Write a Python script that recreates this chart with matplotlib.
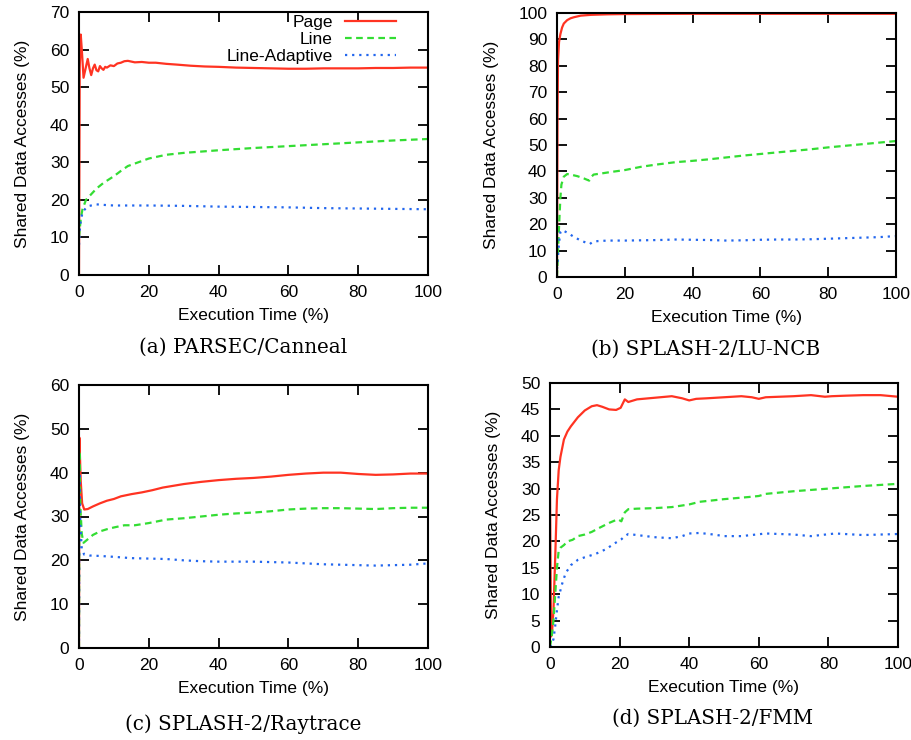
import matplotlib
matplotlib.use("Agg")
import matplotlib.pyplot as plt
import numpy as np

plt.rcParams['font.family'] = ['Liberation Sans', 'DejaVu Sans']

RED = '#ff3322'
GREEN = '#33dd33'
BLUE = '#2266ee'

# ---------------- Panel (a) PARSEC/Canneal ----------------
a_page_x = [0, 0.2, 0.5, 0.8, 1.3, 1.9, 2.5, 3.0, 3.5, 4.0, 4.5, 5.0, 5.5, 6.0, 6.5, 7.0, 7.5, 8.0,
            9.0, 10.0, 11.0, 12.0, 13.0, 14.0, 16.0, 18.0, 20.0, 22.0, 25.0, 28.0, 32.0, 36.0, 40.0,
            45.0, 50.0, 55.0, 60.0, 65.0, 70.0, 75.0, 80.0, 85.0, 90.0, 95.0, 100.0]
a_page_y = [0, 55, 64, 60, 52.5, 55, 57.5, 55, 53.2, 55, 56, 54.5, 54.2, 55.6, 55, 54.6, 55.4, 55.2,
            55.8, 55.6, 56.3, 56.5, 56.9, 57.0, 56.6, 56.7, 56.5, 56.5, 56.2, 56.0, 55.7, 55.5, 55.4,
            55.2, 55.1, 55.0, 54.9, 54.9, 55.0, 55.0, 55.0, 55.1, 55.1, 55.2, 55.2]
a_line_x = [0, 0.5, 1.0, 2.0, 3.0, 5.0, 7.0, 10.0, 12.0, 14.0, 17.0, 20.0, 25.0, 30.0, 40.0, 50.0,
            60.0, 70.0, 80.0, 90.0, 100.0]
a_line_y = [10, 15, 17.5, 20, 21, 23, 24.5, 26.3, 27.7, 29, 30, 31, 32, 32.5, 33.2, 33.8, 34.3,
            34.8, 35.3, 35.8, 36.2]
a_adap_x = [0, 0.3, 0.7, 1.2, 2.0, 3.0, 5.0, 8.0, 10.0, 20.0, 30.0, 40.0, 50.0, 60.0, 70.0, 80.0,
            90.0, 100.0]
a_adap_y = [8, 13, 15.5, 17, 17.8, 18.4, 18.8, 18.6, 18.5, 18.5, 18.4, 18.2, 18.1, 18.0, 17.8,
            17.7, 17.6, 17.5]

# ---------------- Panel (b) SPLASH-2/LU-NCB ----------------
b_page_x = [0, 0.15, 0.3, 0.6, 1.0, 1.5, 2.0, 3.0, 4.0, 5.0, 7.0, 10.0, 15.0, 20.0, 40.0, 60.0,
            80.0, 100.0]
b_page_y = [0, 60, 82, 89, 92, 94.5, 96, 97.3, 98, 98.4, 99, 99.3, 99.5, 99.6, 99.7, 99.7, 99.7, 99.7]
b_line_x = [0, 0.3, 0.7, 1.0, 1.3, 2.0, 3.0, 4.0, 6.0, 8.0, 9.5, 10.2, 10.8, 13.0, 16.0, 20.0,
            25.0, 30.0, 35.0, 40.0, 45.0, 50.0, 55.0, 60.0, 65.0, 70.0, 75.0, 80.0, 85.0, 90.0,
            95.0, 100.0]
b_line_y = [0, 10, 22, 30, 35, 38, 39, 38.8, 38.2, 37.3, 36.5, 38, 38.8, 39.2, 39.8, 40.5, 41.8,
            42.7, 43.5, 44.0, 44.6, 45.3, 46.0, 46.6, 47.2, 47.8, 48.4, 49.1, 49.7, 50.3, 50.9, 51.5]
b_adap_x = [0, 0.3, 0.6, 1.0, 1.5, 3.0, 5.0, 7.0, 9.0, 9.7, 10.5, 12.0, 15.0, 20.0, 25.0, 30.0,
            35.0, 40.0, 45.0, 50.0, 55.0, 60.0, 65.0, 70.0, 75.0, 80.0, 85.0, 90.0, 95.0, 100.0]
b_adap_y = [3, 8, 13, 17, 17.8, 16.8, 15.2, 13.8, 12.8, 12.5, 13.3, 13.6, 13.8, 13.8, 13.9, 14.0,
            14.2, 14.1, 14.0, 13.8, 13.9, 14.1, 14.2, 14.2, 14.3, 14.5, 14.7, 14.9, 15.1, 15.5]

# ---------------- Panel (c) SPLASH-2/Raytrace ----------------
c_page_x = [0, 0.1, 0.5, 0.9, 1.5, 2.5, 4.0, 6.0, 8.0, 10.0, 12.0, 15.0, 18.0, 21.0, 24.0, 27.0,
            30.0, 35.0, 40.0, 45.0, 50.0, 55.0, 60.0, 65.0, 70.0, 75.0, 80.0, 85.0, 90.0, 95.0, 100.0]
c_page_y = [0, 48, 38, 33, 31.6, 31.7, 32.3, 33.0, 33.6, 34.0, 34.6, 35.1, 35.5, 36.0, 36.6, 37.0,
            37.4, 37.9, 38.3, 38.6, 38.8, 39.1, 39.5, 39.8, 40.0, 40.0, 39.7, 39.5, 39.6, 39.8, 39.8]
c_line_x = [0, 0.1, 0.4, 0.8, 1.3, 2.5, 4.0, 6.0, 8.0, 10.0, 13.0, 16.0, 20.0, 25.0, 30.0, 35.0,
            40.0, 45.0, 50.0, 55.0, 60.0, 65.0, 70.0, 75.0, 80.0, 85.0, 90.0, 95.0, 100.0]
c_line_y = [0, 45, 32, 26, 24.0, 24.8, 25.8, 26.6, 27.1, 27.5, 28.0, 28.0, 28.5, 29.3, 29.6, 30.0,
            30.4, 30.7, 30.9, 31.2, 31.6, 31.8, 31.9, 31.9, 31.8, 31.7, 31.9, 32.0, 32.0]
c_adap_x = [0, 0.1, 0.4, 0.8, 1.5, 3.0, 6.0, 10.0, 15.0, 20.0, 25.0, 30.0, 35.0, 40.0, 50.0,
            60.0, 65.0, 70.0, 75.0, 80.0, 85.0, 90.0, 95.0, 100.0]
c_adap_y = [0, 40, 28, 22.5, 21.3, 21.1, 21.0, 20.8, 20.5, 20.4, 20.3, 20.0, 19.8, 19.7, 19.7,
            19.5, 19.3, 19.1, 19.0, 18.9, 18.8, 18.9, 19.0, 19.3]

# ---------------- Panel (d) SPLASH-2/FMM ----------------
d_page_x = [0, 0.3, 0.6, 1.0, 1.5, 2.0, 2.5, 3.0, 4.0, 5.0, 6.0, 8.0, 10.0, 12.0, 13.5, 15.0, 17.0,
            19.0, 20.3, 21.5, 22.5, 25.0, 30.0, 35.0, 38.0, 40.0, 42.0, 45.0, 50.0, 55.0, 58.0, 60.0,
            62.0, 66.0, 70.0, 75.0, 79.0, 81.0, 85.0, 90.0, 95.0, 100.0]
d_page_y = [30, 2, 3, 7, 17, 28, 33.5, 36, 39.3, 40.8, 41.8, 43.5, 44.8, 45.6, 45.8, 45.5, 45.0,
            44.9, 45.3, 46.9, 46.4, 46.9, 47.2, 47.5, 47.1, 46.7, 47.0, 47.1, 47.3, 47.5, 47.3, 47.0,
            47.3, 47.4, 47.5, 47.7, 47.4, 47.5, 47.6, 47.7, 47.7, 47.4]
d_line_x = [0, 0.5, 1.0, 1.5, 2.0, 2.5, 3.0, 4.0, 5.0, 6.5, 8.0, 10.0, 12.0, 14.0, 17.0, 19.5,
            20.5, 21.5, 22.5, 25.0, 30.0, 35.0, 40.0, 43.0, 50.0, 57.0, 60.0, 62.0, 70.0, 80.0, 90.0,
            100.0]
d_line_y = [0, 2, 5, 10, 15, 18.3, 18.8, 19.3, 20.0, 20.3, 21.0, 21.3, 21.8, 22.5, 23.5, 24.2,
            23.8, 25.5, 26.1, 26.2, 26.3, 26.5, 27.0, 27.5, 28.0, 28.4, 28.6, 29.0, 29.5, 30.0, 30.5,
            30.9]
d_adap_x = [0, 0.5, 1.0, 1.5, 2.0, 2.5, 3.5, 4.5, 6.0, 8.0, 10.0, 13.0, 16.0, 19.0, 20.5, 21.5,
            22.5, 25.0, 30.0, 35.0, 38.0, 40.0, 43.0, 47.0, 50.0, 55.0, 62.0, 70.0, 75.0, 82.0, 90.0,
            100.0]
d_adap_y = [0, 0.5, 1.5, 4, 7, 9.5, 12, 14, 15.5, 16.5, 17.0, 17.6, 18.5, 19.8, 20.4, 21.0, 21.4,
            21.2, 20.8, 20.6, 21.0, 21.5, 21.6, 21.3, 21.0, 21.0, 21.5, 21.3, 21.0, 21.5, 21.2, 21.4]

panels = [
    dict(rect=[79, 12, 428, 275], ymax=70, ystep=10, caption='(a) PARSEC/Canneal', cap=(243, 347),
         data=[(a_page_x, a_page_y), (a_line_x, a_line_y), (a_adap_x, a_adap_y)], legend=True),
    dict(rect=[557, 13, 896, 277], ymax=100, ystep=10, caption='(b) SPLASH-2/LU-NCB', cap=(706, 349),
         data=[(b_page_x, b_page_y), (b_line_x, b_line_y), (b_adap_x, b_adap_y)], legend=False),
    dict(rect=[79, 385, 428, 648], ymax=60, ystep=10, caption='(c) SPLASH-2/Raytrace', cap=(243, 724),
         data=[(c_page_x, c_page_y), (c_line_x, c_line_y), (c_adap_x, c_adap_y)], legend=False),
    dict(rect=[550, 383, 898, 647], ymax=50, ystep=5, caption='(d) SPLASH-2/FMM', cap=(713, 718),
         data=[(d_page_x, d_page_y), (d_line_x, d_line_y), (d_adap_x, d_adap_y)], legend=False),
]

series_names = ['Page', 'Line', 'Line-Adaptive']
styles = [dict(color=RED, lw=1.6, ls='-'),
          dict(color=GREEN, lw=1.6, dashes=(3.0, 2.0)),
          dict(color=BLUE, lw=1.6, dashes=(1.0, 2.2))]

W, H = 912, 740
fig = plt.figure(figsize=(W / 100, H / 100), dpi=100)

for p in panels:
    x0, y0, x1, y1 = p['rect']
    ax = fig.add_axes([x0 / W, 1 - y1 / H, (x1 - x0) / W, (y1 - y0) / H])
    handles = []
    for (xs, ys), name, st in zip(p['data'], series_names, styles):
        h, = ax.plot(xs, ys, label=name, **st)
        handles.append(h)
    ax.set_xlim(0, 100)
    ax.set_ylim(0, p['ymax'])
    ax.set_xticks(np.arange(0, 101, 20))
    ax.set_yticks(np.arange(0, p['ymax'] + 0.1, p['ystep']))
    ax.tick_params(direction='in', length=7, width=1.3, top=True, right=True,
                   labelsize=12.5, pad=7)
    for s in ax.spines.values():
        s.set_linewidth(1.5)
    ax.set_xlabel('Execution Time (%)', fontsize=12.5, labelpad=6)
    ax.set_ylabel('Shared Data Accesses (%)', fontsize=12.5, labelpad=14)
    fig.text(p['cap'][0] / W, 1 - p['cap'][1] / H, p['caption'], ha='center', va='center',
             fontsize=14.3, family='DejaVu Serif')
    if p['legend']:
        leg = ax.legend(handles=handles, loc='upper right', frameon=False, fontsize=12.5,
                        markerfirst=False, handlelength=2.95, handletextpad=0.69,
                        labelspacing=0.11, borderaxespad=0.0, borderpad=0.0,
                        bbox_to_anchor=(0.908, 0.989))
        for t in leg.get_texts():
            t.set_ha('right')

fig.savefig('out.png', dpi=100)
